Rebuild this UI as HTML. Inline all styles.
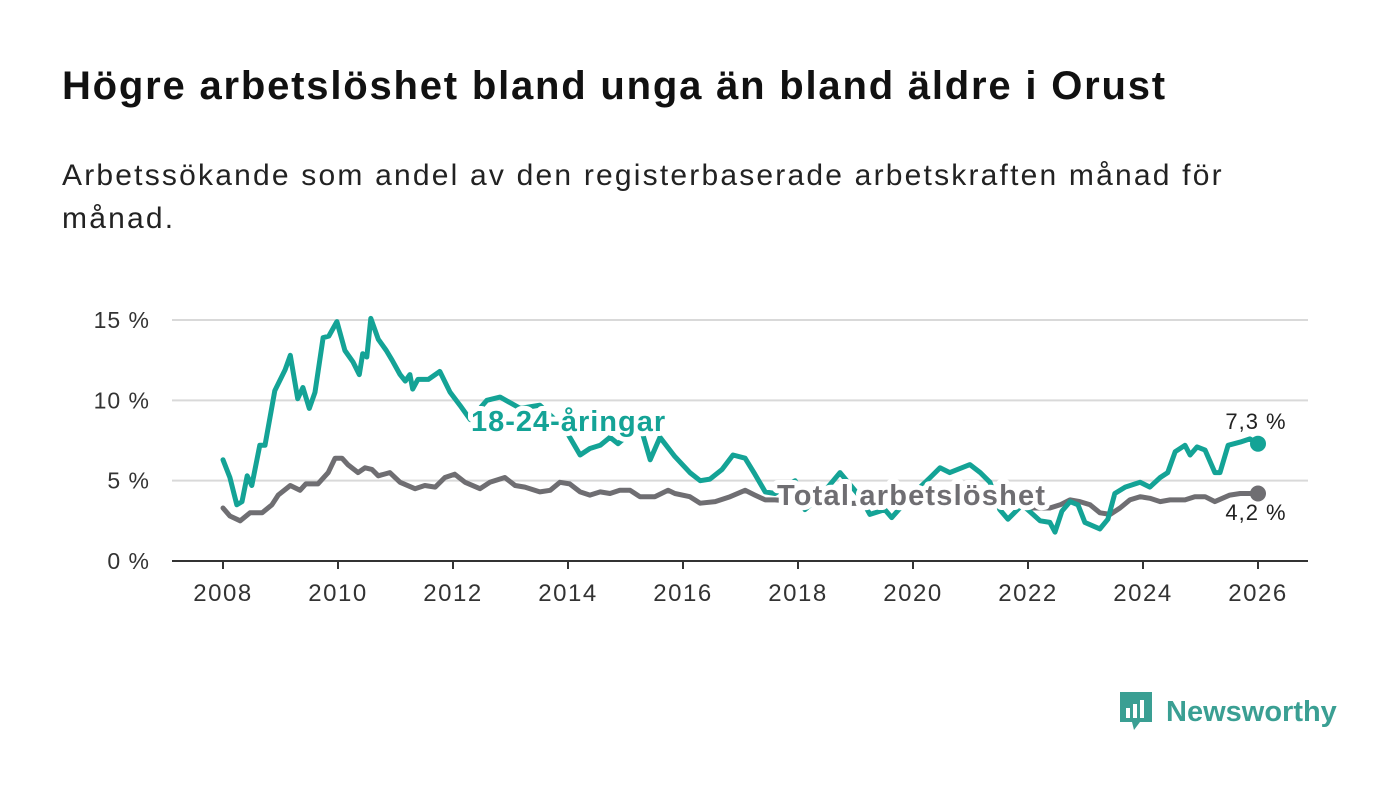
<!DOCTYPE html>
<html><head><meta charset="utf-8"><style>
body{margin:0;background:#fff;font-family:"Liberation Sans",sans-serif;}
#wrap{position:relative;width:1400px;height:794px;overflow:hidden;}
h1{position:absolute;left:62px;top:64px;margin:0;font-size:40px;letter-spacing:1.8px;font-weight:bold;color:#111;}
.sub{position:absolute;left:62px;top:154px;margin:0;font-size:30px;letter-spacing:2.2px;line-height:43px;color:#222;width:1300px;}
svg{position:absolute;left:0;top:0;}
</style></head><body>
<div id="wrap">
<h1>Högre arbetslöshet bland unga än bland äldre i Orust</h1>
<p class="sub">Arbetssökande som andel av den registerbaserade arbetskraften månad för<br>månad.</p>
<svg id="chart" width="1400" height="794"></svg>
</div>
<script>
const yTicks=[0,5,10,15];
const yTickLabels=["0 %","5 %","10 %","15 %"];
const xTicks=[2008,2010,2012,2014,2016,2018,2020,2022,2024,2026];
const totalYears=[2008.00,2008.12,2008.30,2008.47,2008.68,2008.85,2008.96,2009.17,2009.34,2009.44,2009.65,2009.83,2009.95,2010.07,2010.17,2010.35,2010.47,2010.59,2010.70,2010.90,2011.08,2011.34,2011.51,2011.69,2011.86,2012.03,2012.21,2012.47,2012.64,2012.90,2013.08,2013.25,2013.51,2013.69,2013.86,2014.03,2014.21,2014.38,2014.56,2014.73,2014.90,2015.08,2015.25,2015.51,2015.74,2015.86,2016.12,2016.30,2016.56,2016.82,2017.08,2017.25,2017.43,2017.60,2018.0,2018.5,2019.0,2019.5,2020.0,2020.4,2020.8,2021.2,2021.6,2022.0,2022.38,2022.56,2022.73,2022.90,2023.08,2023.25,2023.43,2023.60,2023.77,2023.95,2024.12,2024.30,2024.47,2024.73,2024.90,2025.08,2025.25,2025.51,2025.69,2026.00];
const totalValues=[3.3,2.8,2.5,3.0,3.0,3.5,4.1,4.7,4.4,4.8,4.8,5.5,6.4,6.4,6.0,5.5,5.8,5.7,5.3,5.5,4.9,4.5,4.7,4.6,5.2,5.4,4.9,4.5,4.9,5.2,4.7,4.6,4.3,4.4,4.9,4.8,4.3,4.1,4.3,4.2,4.4,4.4,4.0,4.0,4.4,4.2,4.0,3.6,3.7,4.0,4.4,4.1,3.8,3.8,3.7,3.5,3.6,3.5,3.6,4.5,4.4,4.0,3.6,3.3,3.3,3.5,3.8,3.7,3.5,3.0,2.9,3.3,3.8,4.0,3.9,3.7,3.8,3.8,4.0,4.0,3.7,4.1,4.2,4.2];
const youthYears=[2008.00,2008.12,2008.24,2008.33,2008.42,2008.50,2008.64,2008.73,2008.90,2009.08,2009.17,2009.30,2009.39,2009.50,2009.60,2009.74,2009.84,2009.98,2010.12,2010.26,2010.37,2010.43,2010.50,2010.57,2010.70,2010.84,2010.94,2011.08,2011.17,2011.25,2011.30,2011.39,2011.57,2011.77,2011.95,2012.12,2012.30,2012.59,2012.82,2013.17,2013.51,2013.95,2014.21,2014.38,2014.56,2014.73,2014.87,2015.25,2015.43,2015.60,2015.86,2016.12,2016.30,2016.47,2016.68,2016.87,2017.08,2017.25,2017.43,2017.60,2017.95,2018.12,2018.38,2018.73,2019.08,2019.25,2019.51,2019.63,2019.95,2020.30,2020.47,2020.64,2020.99,2021.17,2021.34,2021.51,2021.65,2021.90,2022.21,2022.38,2022.47,2022.59,2022.73,2022.87,2022.99,2023.25,2023.39,2023.51,2023.69,2023.95,2024.12,2024.30,2024.43,2024.56,2024.73,2024.82,2024.94,2025.08,2025.25,2025.34,2025.48,2025.69,2025.86,2026.00];
const youthValues=[6.3,5.2,3.5,3.7,5.3,4.7,7.2,7.2,10.6,11.9,12.8,10.1,10.8,9.5,10.5,13.9,14.0,14.9,13.1,12.4,11.6,12.9,12.7,15.1,13.8,13.1,12.5,11.6,11.2,11.6,10.7,11.3,11.3,11.8,10.5,9.7,8.8,10.0,10.2,9.5,9.7,8.2,6.6,7.0,7.2,7.7,7.3,8.5,6.3,7.7,6.5,5.5,5.0,5.1,5.7,6.6,6.4,5.4,4.3,4.2,5.0,3.2,4.0,5.5,4.0,2.9,3.2,2.7,4.0,5.2,5.8,5.5,6.0,5.5,4.9,3.2,2.6,3.5,2.5,2.4,1.8,3.1,3.7,3.5,2.4,2.0,2.6,4.2,4.6,4.9,4.6,5.2,5.5,6.8,7.2,6.6,7.1,6.9,5.5,5.5,7.2,7.4,7.6,7.3];

const NS="http://www.w3.org/2000/svg";
const svg=document.getElementById('chart');
const x=y=>223+(y-2008)*(1258-223)/18;
const yS=v=>561-v*(561-320)/15;
function mk(t,a,p){const e=document.createElementNS(NS,t);for(const k in a)e.setAttribute(k,a[k]);(p||svg).appendChild(e);return e;}
yTicks.forEach((t,i)=>{
  const g=mk('line',{x1:172,x2:1308,y1:yS(t),y2:yS(t),stroke:t===0?'#333':'#d9d9d9','stroke-width':2});
  
  
  const l=mk('text',{x:150,y:yS(t)+8,'text-anchor':'end','font-size':23,'letter-spacing':1,fill:'#333'});
  l.textContent=yTickLabels[i];
  
  
});
xTicks.forEach(t=>{
  const k=mk('line',{x1:x(t),x2:x(t),y1:561,y2:569,stroke:'#333','stroke-width':2});
  
  
  const l=mk('text',{x:x(t),y:601,'text-anchor':'middle','font-size':24,'letter-spacing':1.5,fill:'#333'});
  l.textContent=t;
  
  
});
function line(xs,vs,c,name){
  const d=xs.map((t,i)=>(i?'L':'M')+x(t).toFixed(1)+','+yS(vs[i]).toFixed(1)).join('');
  const p=mk('path',{d:d,fill:'none',stroke:c,'stroke-width':5,'stroke-linejoin':'round','stroke-linecap':'round'});
  
  
  const n=xs.length-1;
  const c2=mk('circle',{cx:x(xs[n]),cy:yS(vs[n]),r:8,fill:c});
  
  
}
line(totalYears,totalValues,'#6f6e72','total-line');
line(youthYears,youthValues,'#14a396','youth-line');
function lab(tx,xx,yy,c,fs,w,ls,name,anchor){
  const t=mk('text',{x:xx,y:yy,'font-size':fs,'font-weight':w,'letter-spacing':ls,fill:c,stroke:'#fff','stroke-width':w==='bold'?10:0,'stroke-linejoin':'round','paint-order':'stroke','text-anchor':anchor||'start'});
  t.textContent=tx;
  
  
}
lab('18-24-åringar',471,431,'#14a396',29,'bold',1,'youth-series-label');
lab('Total arbetslöshet',777,505,'#6f6e72',29,'bold',1.2,'total-series-label');
lab('7,3 %',1256,429,'#222',22,'normal',1,'youth-end-value','middle');
lab('4,2 %',1256,520,'#222',22,'normal',1,'total-end-value','middle');
</script>
<div style="position:absolute;left:1118px;top:690px;display:flex;align-items:center;">
<svg width="36" height="44" style="position:static"><path d="M2 2h32v30H22l-6 8-2-8H2z" fill="#3a9f93"/><rect x="8" y="18" width="4" height="10" fill="#fff"/><rect x="15" y="14" width="4" height="14" fill="#fff"/><rect x="22" y="10" width="4" height="18" fill="#fff"/></svg>
<span style="margin-left:12px;font-size:29px;font-weight:bold;color:#3a9f93;">Newsworthy</span></div>
</body></html>
